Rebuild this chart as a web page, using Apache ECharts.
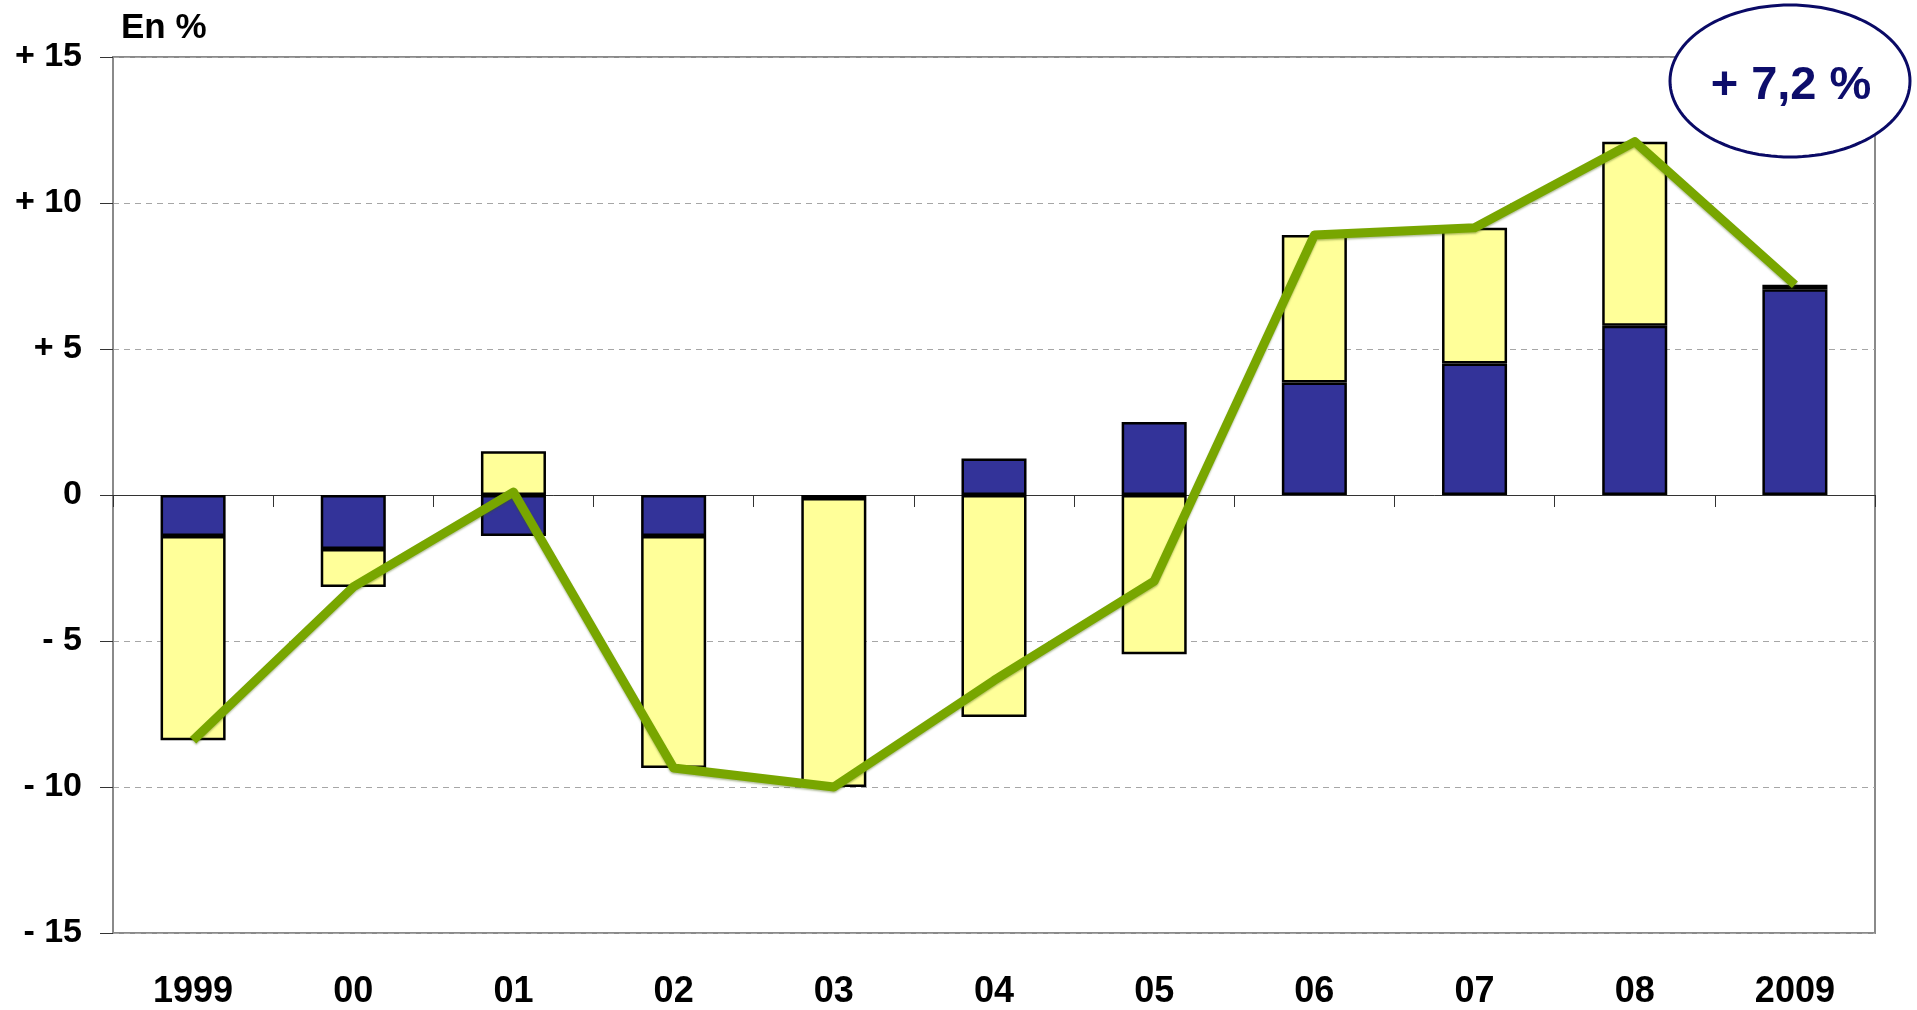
<!DOCTYPE html>
<html>
<head>
<meta charset="utf-8">
<script src="https://cdn.jsdelivr.net/npm/echarts@6/dist/echarts.min.js"></script>
<style>
html,body{margin:0;padding:0;background:#fff;}
#chart{width:1917px;height:1010px;}
</style>
</head>
<body>
<div id="chart"></div>
<script>
// ---- data ----
var categories = ['1999', '00', '01', '02', '03', '04', '05', '06', '07', '08', '2009'];
var seriesBlue = [-1.4, -1.85, -1.4, -1.4, -0.1, 1.25, 2.5, 3.85, 4.5, 5.8, 7.05];
var seriesYellow = [-7.0, -1.3, 1.5, -7.95, -9.9, -7.6, -5.45, 5.05, 4.65, 6.3, 0.15];
var totalLine = [-8.4, -3.15, 0.1, -9.35, -10.0, -6.35, -2.95, 8.9, 9.15, 12.1, 7.2];
var yTickValues = [-15, -10, -5, 0, 5, 10, 15];
var yTickLabels = ['- 15', '- 10', '- 5', '0', '+ 5', '+ 10', '+ 15'];
var unitLabel = 'En %';
var annotationText = '+ 7,2 %';

var chart = echarts.init(document.getElementById('chart'), null, {renderer: 'canvas'});
var FONT = "'Liberation Sans', Arial, sans-serif";
var NARROW = "'Liberation Sans Narrow', 'Arial Narrow', 'Liberation Sans', Arial, sans-serif";

// ellipse outline for annotation (decoration only)
var ell = [];
var ecx = 1790, ecy = 81, erx = 120, ery = 76;
for (var i = 0; i < 120; i++) {
  var t = i / 120 * Math.PI * 2;
  ell.push([ecx + erx * Math.cos(t), ecy + ery * Math.sin(t)]);
}

var option = {
  animation: false,
  backgroundColor: '#fff',
  grid: {left: 113, right: 42, top: 57, bottom: 77, show: true, borderColor: '#8a8a8a', borderWidth: 2, backgroundColor: 'transparent'},
  xAxis: [{
    type: 'category',
    data: categories,
    position: 'bottom',
    axisLine: {show: false, onZero: false},
    axisTick: {show: false},
    axisLabel: {
      margin: 41,
      fontSize: 36,
      fontWeight: 'bold',
      fontFamily: NARROW,
      color: '#000'
    }
  }, {
    type: 'category',
    data: categories,
    position: 'bottom',
    axisLine: {show: true, onZero: true, lineStyle: {color: '#333', width: 1}},
    axisTick: {show: true, inside: false, length: 12, lineStyle: {color: '#333', width: 1}},
    axisLabel: {show: false}
  }],
  yAxis: {
    type: 'value',
    min: -15,
    max: 15,
    interval: 5,
    axisLine: {show: true, lineStyle: {color: '#8a8a8a', width: 2}},
    axisTick: {show: true, inside: false, length: 13, lineStyle: {color: '#333', width: 1}},
    axisLabel: {
      margin: 31,
      fontSize: 34,
      fontWeight: 'bold',
      fontFamily: FONT,
      color: '#000',
      formatter: function (v) {
        var idx = yTickValues.indexOf(v);
        return idx >= 0 ? yTickLabels[idx] : '';
      }
    },
    splitLine: {show: true, lineStyle: {color: '#a6a6a6', type: [6, 5], width: 1}}
  },
  series: [{
    name: 'blue',
    type: 'bar',
    stack: 'a',
    data: seriesBlue,
    barWidth: '40.6%',
    itemStyle: {color: '#333399', borderColor: '#000', borderWidth: 2.5},
    z: 2
  }, {
    name: 'yellow',
    type: 'bar',
    stack: 'a',
    data: seriesYellow,
    barWidth: '40.6%',
    itemStyle: {color: '#FFFF99', borderColor: '#000', borderWidth: 2.5},
    z: 2
  }, {
    name: 'total',
    type: 'line',
    data: totalLine,
    symbol: 'none',
    lineStyle: {color: '#78a600', width: 9, cap: 'butt', join: 'round',
      shadowColor: 'rgba(60,90,0,0.4)', shadowBlur: 2, shadowOffsetY: 1.5},
    z: 5
  }],
  graphic: [{
    type: 'text',
    left: 121,
    top: 11,
    style: {text: unitLabel, font: "bold 35px " + FONT, fill: '#000'}
  }, {
    type: 'polygon',
    shape: {points: ell},
    style: {fill: '#fff', stroke: '#0a0a66', lineWidth: 3},
    z: 100
  }, {
    type: 'text',
    style: {text: annotationText, x: 1791, y: 86, font: "bold 47px " + FONT, fill: '#0d0d6b', align: 'center', verticalAlign: 'middle', textAlign: 'center', textVerticalAlign: 'middle'},
    z: 101
  }]
};
chart.setOption(option);
</script>
</body>
</html>
